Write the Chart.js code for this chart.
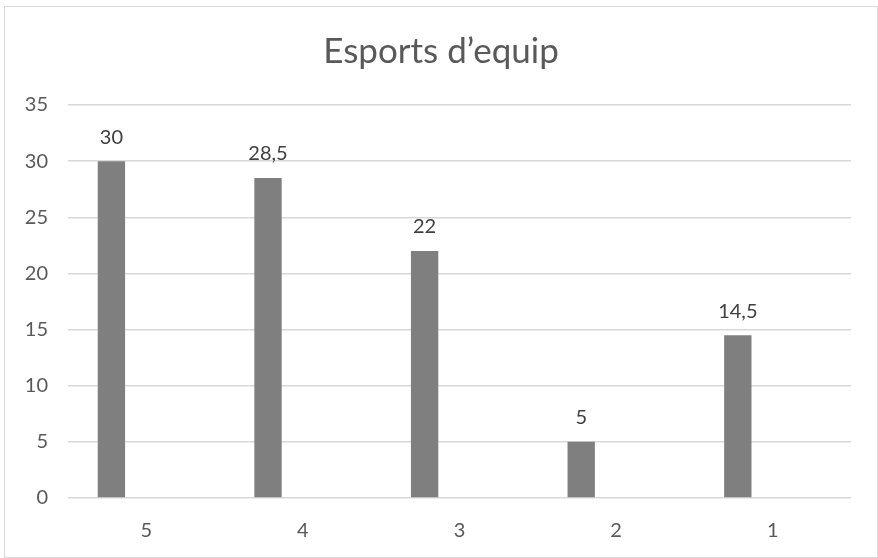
<!DOCTYPE html>
<html>
<head>
<meta charset="utf-8">
<script src="https://cdn.jsdelivr.net/npm/chart.js@4.4.1/dist/chart.umd.min.js"></script>
<style>
  html, body { margin: 0; padding: 0; background: #fff; }
  #box { position: absolute; left: 4px; top: 6px; width: 874px; height: 552px; border: 1px solid #d9d9d9; box-sizing: border-box; }
  canvas { display: block; }
</style>
</head>
<body>
<div id="box"><canvas id="c"></canvas></div>
<script>
const titleText = "Esports d\u2019equip";
const categories = ["5", "4", "3", "2", "1"];
const seriesValues = [30, 28.5, 22, 5, 14.5];
const emptySeries = [null, null, null, null, null];
const yTicks = [0, 5, 10, 15, 20, 25, 30, 35];

const FONT = "Lato, 'Open Sans', sans-serif";

const dataLabels = {
  id: 'dataLabels',
  afterDatasetsDraw(chart) {
    const ctx = chart.ctx;
    const meta = chart.getDatasetMeta(0);
    ctx.save();
    ctx.font = "20px " + FONT;
    ctx.fillStyle = "#404040";
    ctx.textAlign = "center";
    ctx.textBaseline = "bottom";
    meta.data.forEach((bar, i) => {
      const v = seriesValues[i];
      ctx.fillText(String(v).replace('.', ','), bar.x, bar.y - 14);
    });
    ctx.restore();
  }
};

new Chart(document.getElementById('c'), {
  type: 'bar',
  data: {
    labels: categories,
    datasets: [
      { data: seriesValues, backgroundColor: '#7f7f7f', categoryPercentage: 0.891, barPercentage: 0.392 },
      { data: emptySeries, backgroundColor: '#a5a5a5', categoryPercentage: 0.891, barPercentage: 0.392 }
    ]
  },
  options: {
    responsive: true,
    maintainAspectRatio: false,
    animation: false,
    layout: { padding: 0 },
    plugins: {
      legend: { display: false },
      tooltip: { enabled: false },
      title: {
        display: true,
        text: titleText,
        color: '#595959',
        font: { family: FONT, size: 35, weight: 'normal' },
        padding: { top: 24, bottom: 32 }
      }
    },
    scales: {
      x: {
        grid: { display: false },
        border: { display: false },
        ticks: { color: '#595959', font: { family: FONT, size: 20 }, padding: 13 },
        afterFit(s) { s.height = 59; }
      },
      y: {
        min: 0, max: 35,
        afterBuildTicks(s) { s.ticks = yTicks.map(v => ({ value: v })); },
        grid: { color: '#d9d9d9', lineWidth: 1.5, drawTicks: false },
        border: { display: false },
        ticks: { color: '#595959', font: { family: FONT, size: 20 }, padding: 20 },
        afterFit(s) { s.width = 63; }
      },
      yRight: {
        type: 'linear',
        position: 'right',
        display: true,
        grid: { display: false, drawTicks: false },
        border: { display: false },
        ticks: { display: false },
        afterFit(s) { s.width = 26; }
      }
    }
  },
  plugins: [dataLabels]
});
</script>
</body>
</html>
